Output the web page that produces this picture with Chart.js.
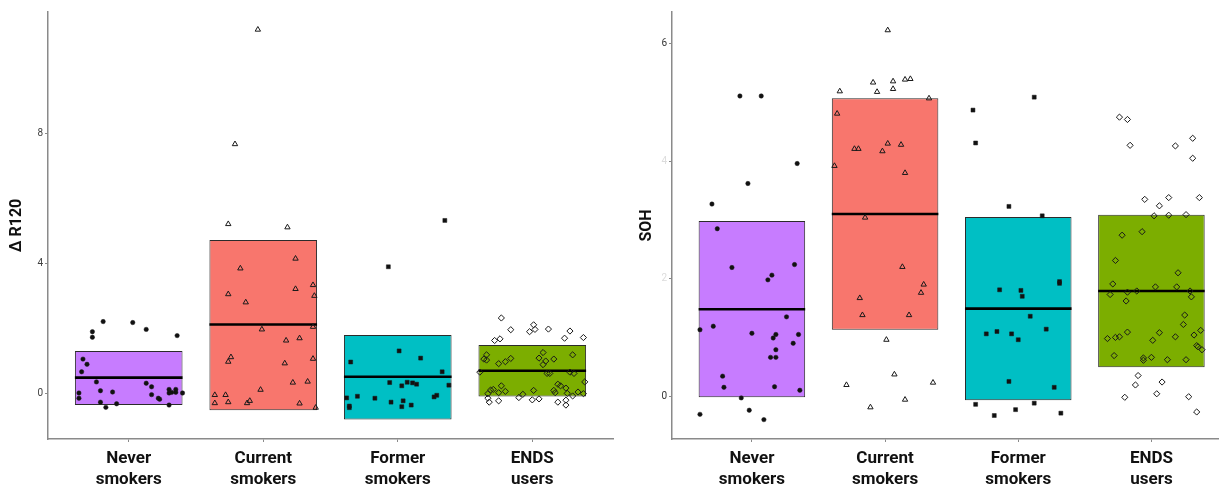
<!DOCTYPE html>
<html>
<head>
<meta charset="utf-8">
<script src="https://cdn.jsdelivr.net/npm/chart.js@4/dist/chart.umd.min.js"></script>
<style>
  html, body { margin: 0; padding: 0; background: #ffffff; }
  #wrap { position: relative; width: 1223px; height: 491px; overflow: hidden; background: #ffffff; }
  #left { position: absolute; left: 0; top: 0; }
  #right { position: absolute; left: 620px; top: 0; }
</style>
</head>
<body>
<div id="wrap">
  <canvas id="left" width="620" height="491"></canvas>
  <canvas id="right" width="603" height="491"></canvas>
</div>
<script>
// Groups, in axis order (1..4)
const categories = [["Never", "smokers"], ["Current", "smokers"], ["Former", "smokers"], ["ENDS", "users"]];
const groupColors = ["#C77CFF", "#F8766D", "#00BFC4", "#7CAE00"];
const groupShapes = ["circle", "triangle", "rect", "rectRot"];

// Δ R120 panel
const r120Ticks = [0, 4, 8];
const r120Lower = [-0.34, -0.50, -0.78, -0.08];
const r120Median = [0.50, 2.13, 0.53, 0.71];
const r120Upper = [1.32, 4.72, 1.81, 1.50];
const r120Never = [[0.73,1.91],[0.73,1.74],[0.81,2.22],[1.03,2.19],[1.13,1.98],[1.36,1.79],[0.66,1.07],[0.69,0.91],[0.65,0.68],[0.76,0.37],[0.63,0.03],[0.63,-0.13],[0.79,0.10],[0.79,-0.25],[0.83,-0.41],[0.88,0.06],[0.91,-0.30],[1.13,0.33],[1.17,0.22],[1.17,-0.02],[1.22,-0.13],[1.23,-0.16],[1.30,0.14],[1.30,-0.34],[1.30,0.03],[1.32,0.05],[1.35,0.14],[1.35,0.05],[1.40,0.03]];
const r120Current = [[1.96,11.17],[1.79,7.66],[1.74,5.21],[2.18,5.11],[2.24,4.15],[1.83,3.85],[1.74,3.06],[1.87,2.81],[2.24,3.22],[2.37,3.34],[2.38,3.01],[2.37,2.06],[1.99,1.98],[2.17,1.64],[2.27,1.71],[1.76,1.13],[1.74,0.99],[2.16,0.94],[2.37,1.08],[2.22,0.35],[2.33,0.38],[1.98,0.13],[1.64,-0.03],[1.72,-0.03],[1.64,-0.28],[1.74,-0.25],[1.88,-0.28],[1.90,-0.21],[2.27,-0.29],[2.39,-0.42]];
const r120Former = [[3.35,5.32],[2.93,3.90],[3.01,1.32],[3.17,1.10],[2.65,0.98],[3.33,0.68],[2.94,0.35],[3.03,0.25],[3.07,0.36],[3.11,0.34],[3.14,0.30],[3.38,0.27],[2.62,-0.12],[2.70,-0.07],[2.83,-0.13],[2.64,-0.37],[2.64,-0.42],[2.95,-0.25],[3.04,-0.21],[3.03,-0.39],[3.10,-0.34],[3.27,-0.09],[3.29,-0.04]];
const r120Ends = [[3.77,2.33],[3.84,1.97],[3.98,1.91],[4.01,2.12],[4.02,1.98],[4.12,1.99],[4.28,1.93],[4.24,1.71],[4.38,1.73],[3.72,1.64],[3.76,1.69],[3.66,1.20],[3.64,1.07],[3.66,1.04],[3.75,0.93],[3.80,0.99],[3.84,1.09],[4.05,1.10],[4.08,1.27],[4.10,1.01],[4.08,0.90],[4.16,1.07],[4.30,1.20],[3.61,0.67],[4.11,0.63],[4.13,0.63],[4.28,0.67],[4.31,0.63],[4.39,0.37],[3.69,0.12],[3.71,0.14],[3.77,0.25],[3.75,0.04],[3.80,0.08],[3.67,0.01],[3.67,-0.13],[3.68,-0.25],[3.75,-0.21],[3.90,-0.11],[3.93,-0.01],[4.00,-0.18],[4.05,-0.15],[4.01,0.11],[4.19,0.30],[4.21,0.25],[4.16,0.11],[4.25,0.18],[4.17,0.04],[4.26,0.02],[4.30,-0.06],[4.34,0.06],[4.38,0.01],[4.19,-0.25],[4.25,-0.19],[4.25,-0.34]];

// SOH panel
const sohTicks = [0, 2, 4, 6];
const sohLower = [-0.02, 1.13, -0.07, 0.49];
const sohMedian = [1.48, 3.10, 1.49, 1.79];
const sohUpper = [2.98, 5.07, 3.05, 3.09];
const sohNever = [[0.91,5.11],[1.07,5.11],[1.34,3.96],[0.97,3.62],[0.70,3.27],[0.74,2.85],[0.85,2.19],[1.32,2.24],[1.15,2.06],[1.12,1.98],[1.26,1.35],[0.61,1.13],[0.71,1.19],[1.00,1.07],[1.18,1.05],[1.16,0.99],[1.35,1.05],[1.31,0.90],[1.18,0.79],[1.14,0.66],[1.18,0.66],[0.78,0.34],[0.79,0.15],[1.17,0.16],[1.36,0.10],[0.92,-0.03],[0.61,-0.31],[0.98,-0.24],[1.09,-0.40]];
const sohCurrent = [[2.02,6.23],[1.91,5.34],[2.06,5.36],[2.15,5.39],[2.19,5.40],[1.66,5.19],[1.94,5.18],[2.06,5.23],[2.33,5.07],[1.64,4.81],[1.77,4.21],[1.80,4.21],[2.02,4.30],[1.98,4.17],[2.12,4.28],[1.62,3.92],[2.15,3.80],[1.85,3.04],[2.13,2.20],[2.29,1.90],[2.27,1.76],[1.81,1.67],[1.83,1.38],[2.18,1.38],[2.01,0.96],[2.07,0.37],[1.71,0.19],[1.89,-0.19],[2.15,-0.06],[2.36,0.23]];
const sohFormer = [[2.66,4.87],[3.12,5.09],[2.68,4.31],[2.93,3.23],[3.18,3.07],[2.86,1.81],[3.02,1.80],[3.03,1.70],[3.31,1.95],[3.31,1.92],[3.09,1.36],[3.21,1.14],[2.76,1.06],[2.84,1.10],[2.95,1.06],[3.00,0.96],[2.93,0.25],[3.27,0.15],[2.68,-0.14],[2.82,-0.33],[2.98,-0.23],[3.12,-0.12],[3.32,-0.29]];
const sohEnds = [[3.76,4.75],[3.82,4.71],[3.84,4.27],[4.18,4.26],[4.31,4.39],[4.31,4.05],[3.95,3.35],[4.13,3.38],[4.36,3.38],[4.06,3.24],[4.02,3.07],[4.13,3.08],[4.26,3.09],[3.78,2.74],[3.93,2.80],[3.73,2.31],[4.20,2.10],[3.71,1.91],[3.69,1.73],[3.82,1.77],[3.89,1.79],[4.03,1.86],[4.19,1.86],[4.29,1.79],[4.30,1.69],[3.81,1.62],[4.25,1.38],[4.24,1.22],[4.37,1.12],[4.32,1.04],[3.67,0.98],[3.73,1.00],[3.76,1.01],[3.82,1.09],[4.06,1.08],[4.01,0.95],[4.18,1.01],[4.34,0.86],[4.35,0.84],[4.38,0.79],[3.72,0.69],[3.94,0.65],[3.94,0.61],[4.00,0.66],[4.12,0.62],[4.26,0.62],[3.90,0.35],[3.88,0.19],[4.08,0.24],[4.04,0.04],[3.80,-0.02],[4.28,-0.01],[4.34,-0.27]];

const BOX_HALF = 0.4;          // crossbar half-width in category units
const AXIS_GREY = "#8a8a8a";
const FONT = "Roboto, 'Liberation Sans', Arial, sans-serif";

function buildChart(canvas, cfg) {
  const datasets = [];
  // jittered observations, drawn on top
  cfg.points.forEach((pts, g) => {
    const open = groupShapes[g] === "triangle" || groupShapes[g] === "rectRot";
    datasets.push({
      type: "scatter",
      data: pts.map(p => ({ x: p[0], y: p[1] })),
      pointStyle: groupShapes[g],
      pointRadius: groupShapes[g] === "circle" ? 2.2 : (groupShapes[g] === "rect" ? 2.8 : 3.1),
      pointBackgroundColor: open ? "rgba(0,0,0,0)" : "#111111",
      pointBorderColor: "#1a1a1a",
      pointBorderWidth: open ? 1 : 0.5,
      order: 0
    });
  });
  // median bars of the crossbars
  cfg.median.forEach((m, g) => {
    datasets.push({
      type: "line",
      data: [{ x: g + 1 - BOX_HALF, y: m }, { x: g + 1 + BOX_HALF, y: m }],
      borderColor: "#000000",
      borderWidth: 2.6,
      pointRadius: 0,
      order: 1
    });
  });
  // crossbar boxes (lower .. upper)
  datasets.push({
    type: "bar",
    data: cfg.lower.map((lo, g) => ({ x: g + 1, y: [lo, cfg.upper[g]] })),
    backgroundColor: groupColors,
    borderColor: "#2b2b2b",
    borderWidth: 1,
    borderSkipped: false,
    barPercentage: 0.8,
    categoryPercentage: 1.0,
    order: 2
  });

  return new Chart(canvas, {
    type: "bar",
    data: { datasets },
    options: {
      responsive: false,
      animation: false,
      events: [],
      layout: { padding: { top: 12, right: cfg.padRight, left: 0, bottom: 0 } },
      plugins: { legend: { display: false }, tooltip: { enabled: false } },
      scales: {
        x: {
          type: "linear",
          offset: false,
          min: 0.4,
          max: cfg.xMax,
          afterBuildTicks: s => { s.ticks = categories.map((c, i) => ({ value: i + 1 })); },
          afterFit: s => { s.height = 52; },
          grid: { display: true, offset: false, drawOnChartArea: false, drawTicks: true, tickLength: 3, color: AXIS_GREY, lineWidth: 1 },
          border: { display: true, color: AXIS_GREY, width: 1.5 },
          ticks: {
            autoSkip: false,
            maxRotation: 0,
            padding: 7,
            color: "#111111",
            font: { family: FONT, size: 17, weight: "bold", lineHeight: 1.2 },
            callback: v => categories[Math.round(v) - 1] || ""
          }
        },
        y: {
          type: "linear",
          min: cfg.yMin,
          max: cfg.yMax,
          afterBuildTicks: s => { s.ticks = cfg.ticks.map(v => ({ value: v })); },
          afterFit: s => { s.width = cfg.yWidth; },
          grid: { display: true, drawOnChartArea: false, drawTicks: true, tickLength: 3, color: AXIS_GREY, lineWidth: 1 },
          border: { display: true, color: AXIS_GREY, width: 1.5 },
          title: {
            display: true,
            text: cfg.title,
            color: "#111111",
            padding: { top: cfg.titleGap, bottom: 0 },
            font: { family: FONT, size: 16, weight: "bold", lineHeight: 1.2 }
          },
          ticks: {
            padding: 2,
            color: cfg.tickColor,
            font: { family: FONT, size: 10 },
            callback: v => String(v)
          }
        }
      }
    }
  });
}

buildChart(document.getElementById("left"), {
  title: "\u0394 R120",
  ticks: r120Ticks,
  lower: r120Lower, median: r120Median, upper: r120Upper,
  points: [r120Never, r120Current, r120Former, r120Ends],
  yMin: -1.38, yMax: 11.71,
  xMax: 4.6, padRight: 7, yWidth: 48, titleGap: 7,
  tickColor: "#3f3f3f"
});

buildChart(document.getElementById("right"), {
  title: "SOH",
  ticks: sohTicks,
  lower: sohLower, median: sohMedian, upper: sohUpper,
  points: [sohNever, sohCurrent, sohFormer, sohEnds],
  yMin: -0.73, yMax: 6.54,
  xMax: 4.5, padRight: 0, yWidth: 52, titleGap: 17,
  // labels 2 and 4 are printed very faintly on this axis
  tickColor: c => (c.tick && (c.tick.value === 0 || c.tick.value === 6)) ? "#333333" : "#dcdcdc"
});
</script>
</body>
</html>
